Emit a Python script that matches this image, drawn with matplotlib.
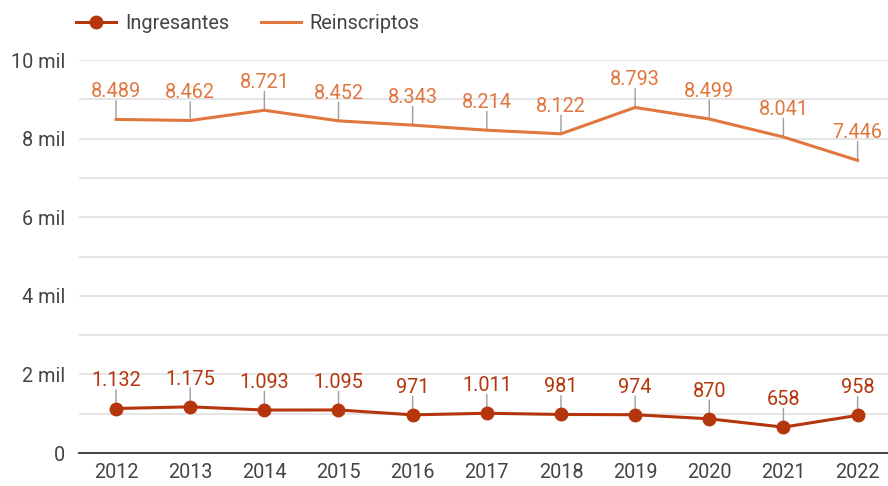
import matplotlib
matplotlib.use('Agg')
import matplotlib.pyplot as plt
from matplotlib.lines import Line2D
from matplotlib.ticker import MultipleLocator, FuncFormatter

# Data
years = ['2012', '2013', '2014', '2015', '2016', '2017', '2018', '2019', '2020', '2021', '2022']
ingresantes = [1132, 1175, 1093, 1095, 971, 1011, 981, 974, 870, 658, 958]
reinscriptos = [8489, 8462, 8721, 8452, 8343, 8214, 8122, 8793, 8499, 8041, 7446]

COL_ING = '#b5360c'
COL_REI = '#e0773f'
TXT = '#444444'
FS = 14.3

plt.rcParams['font.family'] = ['Roboto', 'DejaVu Sans']


def fmt_num(v):
    return f'{v:,}'.replace(',', '.')


def fmt_axis(v, pos):
    if v == 0:
        return '0'
    return f'{int(v / 1000)} mil'


fig = plt.figure(figsize=(8.88, 4.86), dpi=100)
ax = fig.add_axes([0.0889, 0.0679, 0.9111, 0.8086])

x = list(range(len(years)))
ax.plot(x, reinscriptos, color=COL_REI, lw=2.2, solid_joinstyle='round', zorder=3)
ax.plot(x, ingresantes, color=COL_ING, lw=2.2, marker='o', markersize=9, zorder=3)

# data labels with gray leader lines
for series, col in [(reinscriptos, COL_REI), (ingresantes, COL_ING)]:
    for i, v in enumerate(series):
        ax.annotate('', xy=(i, v), xytext=(0, 13.5), textcoords='offset points',
                    arrowprops=dict(arrowstyle='-', color='#9e9e9e', lw=1,
                                    shrinkA=0, shrinkB=0), zorder=2)
        ax.annotate(fmt_num(v), xy=(i, v), xytext=(0, 16), textcoords='offset points',
                    ha='center', va='baseline', fontsize=FS, color=col, zorder=4)

ax.set_xlim(-0.5, 10.41)
ax.set_ylim(0, 10000)
ax.set_xticks(x)
ax.set_xticklabels(years)
ax.yaxis.set_major_locator(MultipleLocator(2000))
ax.yaxis.set_minor_locator(MultipleLocator(1000))
ax.yaxis.set_major_formatter(FuncFormatter(fmt_axis))
ax.grid(which='both', axis='y', color='#e0e0e0', lw=1.2, zorder=0)
ax.tick_params(axis='both', which='both', length=0, labelsize=FS, colors=TXT)
ax.tick_params(axis='x', pad=7)
ax.tick_params(axis='y', pad=10)
for s in ['top', 'right', 'left']:
    ax.spines[s].set_visible(False)
ax.spines['bottom'].set_color('#333333')
ax.spines['bottom'].set_linewidth(1.3)
ax.set_axisbelow(True)

handles = [Line2D([], [], color=COL_ING, lw=2.2, marker='o', markersize=9),
           Line2D([], [], color=COL_REI, lw=2.2)]
fig.legend(handles, ['Ingresantes', 'Reinscriptos'], loc='center left',
           bbox_to_anchor=(0.066, 0.952), ncol=2, frameon=False, fontsize=FS,
           labelcolor=TXT, handlelength=2.0, columnspacing=1.6, handletextpad=0.45)

fig.savefig('out.png', dpi=100)
